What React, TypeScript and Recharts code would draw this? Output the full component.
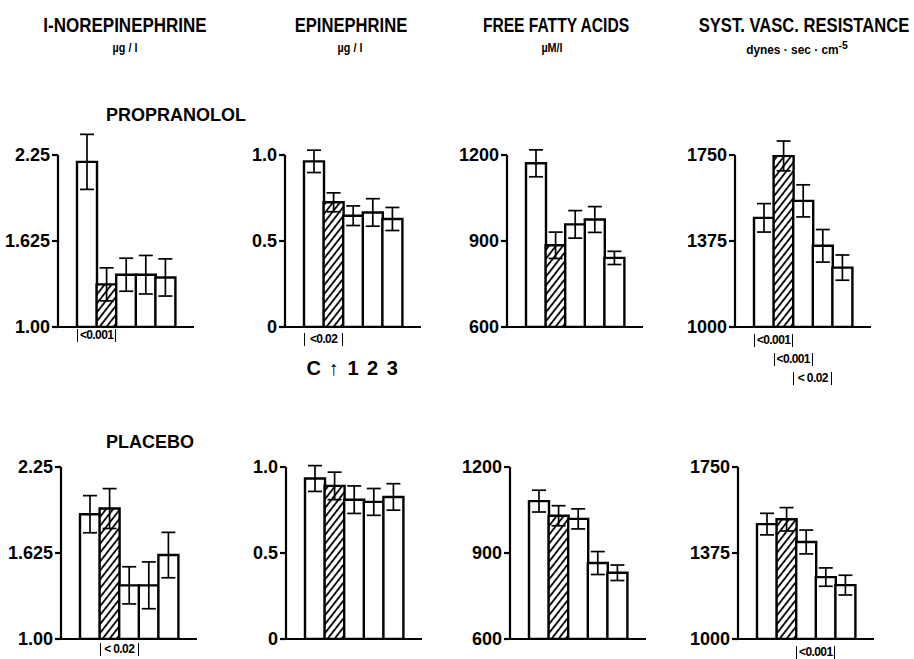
import React from 'react'
import { BarChart, Bar, XAxis, YAxis, ErrorBar, Cell } from 'recharts'

// bar order: control, during infusion (hatched), 1, 2, 3
const CATEGORIES = ['C', '↑', '1', '2', '3']

// propranolol row
const NE_PROP = [2.2, 1.31, 1.38, 1.38, 1.36]
const NE_PROP_ERR = [0.2, 0.12, 0.12, 0.14, 0.135]
const EPI_PROP = [0.963, 0.725, 0.647, 0.666, 0.628]
const EPI_PROP_ERR = [0.065, 0.055, 0.057, 0.08, 0.067]
const FFA_PROP = [1171, 885, 958, 975, 841]
const FFA_PROP_ERR = [47, 46, 48, 45, 23]
const SVR_PROP = [1476, 1746, 1550, 1354, 1259]
const SVR_PROP_ERR = [62, 65, 70, 71, 55]

// placebo row
const NE_PLAC = [1.907, 1.948, 1.39, 1.39, 1.61]
const NE_PLAC_ERR = [0.135, 0.145, 0.135, 0.17, 0.165]
const EPI_PLAC = [0.933, 0.89, 0.81, 0.797, 0.826]
const EPI_PLAC_ERR = [0.075, 0.08, 0.08, 0.078, 0.077]
const FFA_PLAC = [1081, 1030, 1019, 865, 831]
const FFA_PLAC_ERR = [38, 35, 35, 40, 27]
const SVR_PLAC = [1501, 1522, 1423, 1270, 1235]
const SVR_PLAC_ERR = [47, 51, 52, 40, 43]

const NE_TICKS = [1, 1.625, 2.25]
const NE_TICK_LABELS = ['1.00', '1.625', '2.25']
const EPI_TICKS = [0, 0.5, 1]
const EPI_TICK_LABELS = ['0', '0.5', '1.0']
const FFA_TICKS = [600, 900, 1200]
const FFA_TICK_LABELS = ['600', '900', '1200']
const SVR_TICKS = [1000, 1375, 1750]
const SVR_TICK_LABELS = ['1000', '1375', '1750']

const SANS = "'Liberation Sans', Arial, sans-serif"

const Y_W = 58
const M_TOP = 24
const PLOT_W = 136
const PLOT_H = 172
const X_H = 60
const PAD = 19
const BAND = (PLOT_W - 2 * PAD) / 5

const CatTick = (props: any) => {
  const { x, y, payload } = props
  return (
    <text x={x} y={y + 48} textAnchor="middle" fontSize={20} fontWeight="bold" fontFamily={SANS} fill="#000">
      {payload.value}
    </text>
  )
}

interface PanelProps {
  id: string
  axisX: number
  topY: number
  values: number[]
  errors: number[]
  ticks: number[]
  tickLabels: string[]
  showCats?: boolean
}

function Panel({ id, axisX, topY, values, errors, ticks, tickLabels, showCats }: PanelProps) {
  const data = CATEGORIES.map((cat, i) => ({ cat, value: values[i], err: errors[i] }))
  return (
    <div style={{ position: 'absolute', left: axisX - Y_W, top: topY - M_TOP }}>
      <BarChart
        width={Y_W + PLOT_W + 6}
        height={M_TOP + PLOT_H + X_H}
        data={data}
        margin={{ top: M_TOP, right: 6, bottom: 0, left: 0 }}
        barCategoryGap={0}
        barGap={0}
      >
        <defs>
          <pattern id={`hatch-${id}`} patternUnits="userSpaceOnUse" width={5.5} height={5.5} patternTransform="rotate(38)">
            <rect width={5.5} height={5.5} fill="#fff" />
            <line x1={1} y1={0} x2={1} y2={5.5} stroke="#000" strokeWidth={1.8} />
          </pattern>
        </defs>
        <XAxis
          dataKey="cat"
          padding={{ left: PAD, right: PAD }}
          height={X_H}
          interval={0}
          tickLine={false}
          tickSize={0}
          tickMargin={0}
          tick={showCats ? <CatTick /> : false}
          axisLine={{ stroke: '#000', strokeWidth: 2.2 }}
        />
        <YAxis
          width={Y_W}
          domain={[ticks[0], ticks[2]]}
          ticks={ticks}
          interval={0}
          allowDataOverflow
          tickSize={6}
          tickMargin={2}
          tickFormatter={(v: number) => tickLabels[ticks.indexOf(v)]}
          tick={{ fill: '#000', fontSize: 18, fontWeight: 'bold', fontFamily: SANS }}
          tickLine={{ stroke: '#000', strokeWidth: 2.2 }}
          axisLine={{ stroke: '#000', strokeWidth: 2.2 }}
        />
        <Bar dataKey="value" stroke="#000" strokeWidth={2.4} isAnimationActive={false}>
          {data.map((d, i) => (
            <Cell key={d.cat} fill={i === 1 ? `url(#hatch-${id})` : '#fff'} />
          ))}
          <ErrorBar dataKey="err" width={7} stroke="#000" strokeWidth={1.7} direction="y" />
        </Bar>
      </BarChart>
    </div>
  )
}

// significance bracket spanning two adjacent bars
function PNote({ axisX, bar, top, text }: { axisX: number; bar: number; top: number; text: string }) {
  return (
    <div
      style={{
        position: 'absolute',
        left: axisX + PAD + bar * BAND,
        top,
        width: BAND * 2,
        height: 13,
        borderLeft: '1.5px solid #000',
        borderRight: '1.5px solid #000',
        boxSizing: 'border-box',
        fontFamily: SANS,
        fontWeight: 'bold',
        fontSize: 12,
        letterSpacing: -0.6,
        lineHeight: '13px',
        textAlign: 'center',
        whiteSpace: 'nowrap',
      }}
    >
      {text}
    </div>
  )
}

function Label({ x, y, size, children, sx = 1, weight = 'bold' }: any) {
  return (
    <div
      style={{
        position: 'absolute',
        left: x,
        top: y,
        transform: `translate(-50%, -50%) scaleX(${sx})`,
        fontFamily: SANS,
        fontWeight: weight,
        fontSize: size,
        whiteSpace: 'nowrap',
        lineHeight: 1,
      }}
    >
      {children}
    </div>
  )
}

export default function App() {
  return (
    <div style={{ position: 'absolute', left: 0, top: 0, width: 914, height: 659, background: '#fff', color: '#000' }}>
      <Label x={125} y={25} size={20} sx={0.85}>I-NOREPINEPHRINE</Label>
      <Label x={125} y={48} size={12} sx={0.9}>µg / l</Label>
      <Label x={351} y={25} size={20} sx={0.83}>EPINEPHRINE</Label>
      <Label x={350} y={48} size={12} sx={0.9}>µg / l</Label>
      <Label x={556} y={25} size={20} sx={0.78}>FREE FATTY ACIDS</Label>
      <Label x={552} y={48} size={12} sx={0.9}>µM/l</Label>
      <Label x={804} y={25} size={20} sx={0.83}>SYST. VASC. RESISTANCE</Label>
      <Label x={797} y={48} size={12.5} sx={0.95}>
        dynes · sec · cm<sup style={{ fontSize: 11 }}>-5</sup>
      </Label>

      <Label x={176} y={115} size={18} weight={900}>PROPRANOLOL</Label>
      <Label x={150} y={442} size={18} weight={900}>PLACEBO</Label>

      <Panel id="a" axisX={58} topY={155} values={NE_PROP} errors={NE_PROP_ERR} ticks={NE_TICKS} tickLabels={NE_TICK_LABELS} />
      <Panel id="b" axisX={285} topY={155} values={EPI_PROP} errors={EPI_PROP_ERR} ticks={EPI_TICKS} tickLabels={EPI_TICK_LABELS} showCats />
      <Panel id="c" axisX={507} topY={155} values={FFA_PROP} errors={FFA_PROP_ERR} ticks={FFA_TICKS} tickLabels={FFA_TICK_LABELS} />
      <Panel id="d" axisX={735} topY={155} values={SVR_PROP} errors={SVR_PROP_ERR} ticks={SVR_TICKS} tickLabels={SVR_TICK_LABELS} />

      <Panel id="e" axisX={61} topY={467} values={NE_PLAC} errors={NE_PLAC_ERR} ticks={NE_TICKS} tickLabels={NE_TICK_LABELS} />
      <Panel id="f" axisX={286} topY={467} values={EPI_PLAC} errors={EPI_PLAC_ERR} ticks={EPI_TICKS} tickLabels={EPI_TICK_LABELS} />
      <Panel id="g" axisX={510} topY={467} values={FFA_PLAC} errors={FFA_PLAC_ERR} ticks={FFA_TICKS} tickLabels={FFA_TICK_LABELS} />
      <Panel id="h" axisX={738} topY={467} values={SVR_PLAC} errors={SVR_PLAC_ERR} ticks={SVR_TICKS} tickLabels={SVR_TICK_LABELS} />

      <PNote axisX={58} bar={0} top={329} text="<0.001" />
      <PNote axisX={285} bar={0} top={333} text="<0.02" />
      <PNote axisX={735} bar={0} top={334} text="<0.001" />
      <PNote axisX={735} bar={1} top={353} text="<0.001" />
      <PNote axisX={735} bar={2} top={372} text="< 0.02" />
      <PNote axisX={61} bar={1} top={643} text="< 0.02" />
      <PNote axisX={738} bar={2} top={646} text="<0.001" />
    </div>
  )
}
